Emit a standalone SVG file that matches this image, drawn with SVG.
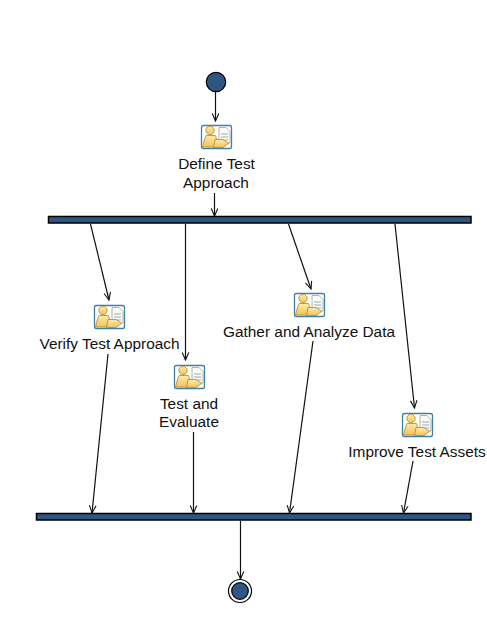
<svg xmlns="http://www.w3.org/2000/svg" xmlns:xlink="http://www.w3.org/1999/xlink" width="487" height="624" viewBox="0 0 487 624">
<style>
text{font-family:"Liberation Sans",Arial,sans-serif;font-size:15.4px;fill:#111;text-anchor:middle}
.bar{fill:#2f5582;stroke:#000;stroke-width:1.5}
.start{fill:#2f5582;stroke:#000;stroke-width:1.2}
.edge{fill:none;stroke:#111;stroke-width:1.2;marker-end:url(#arr)}
</style>
<defs>
<marker id="arr" markerUnits="userSpaceOnUse" viewBox="-9 -5 10 10" refX="0" refY="0" markerWidth="10" markerHeight="10" orient="auto">
<path d="M-7.500 -3.300L0 0L-7.500 3.300" fill="none" stroke="#111" stroke-width="1.100"/>
</marker>
<linearGradient id="gold" x1="0" y1="0" x2="0" y2="1"><stop offset="0" stop-color="#fdeca8"/><stop offset="1" stop-color="#f2c25e"/></linearGradient>
<g id="icon">
<rect x="0.500" y="0.500" width="30" height="23" rx="2" fill="#fff" stroke="#3f7fa8" stroke-width="1.300"/>
<path d="M18 2.500H25L29 6.500V18H18Z" fill="#fbfbf6" stroke="#a0a098" stroke-width=".8"/>
<path d="M20 9H27M20 12H27M21 15H27" stroke="#8298a6" stroke-width=".8"/>
<circle cx="9" cy="5.500" r="4.200" fill="url(#gold)" stroke="#b5862a" stroke-width=".8"/>
<path d="M5 10.500H14.500L15.500 14V22H1.500L3 16Z" fill="url(#gold)" stroke="#b5862a" stroke-width=".8"/>
<path d="M14 14.500H22L27.500 18.500L22 22.500H12.500Z" fill="url(#gold)" stroke="#b5862a" stroke-width=".8"/>
</g>
</defs>
<rect width="487" height="624" fill="#fff"/>
<g id="connectors">
<path class="edge" d="M215.500 92V121"/>
<path class="edge" d="M214.500 193V216"/>
<path class="edge" d="M90.500 224L109 300"/>
<path class="edge" d="M185.500 224V360"/>
<path class="edge" d="M288.500 224L311 289"/>
<path class="edge" d="M395 224L414.500 408"/>
<path class="edge" d="M108 354L92 513"/>
<path class="edge" d="M193.500 432V513"/>
<path class="edge" d="M313 341L289.500 513"/>
<path class="edge" d="M413 461L403.500 513"/>
<path class="edge" d="M240.500 521V579"/>
</g>
<g id="start"><circle class="start" cx="216" cy="82" r="9.700"/></g>
<g id="define-test-approach"><use xlink:href="#icon" href="#icon" x="201" y="125"/><text x="216.500" y="169">Define Test</text><text x="216" y="188">Approach</text></g>
<g id="fork"><rect class="bar" x="48.500" y="216.500" width="422.500" height="6.500"/></g>
<g id="verify-test-approach"><use xlink:href="#icon" href="#icon" x="94" y="305"/><text x="109.500" y="349">Verify Test Approach</text></g>
<g id="test-and-evaluate"><use xlink:href="#icon" href="#icon" x="174" y="365"/><text x="189" y="409">Test and</text><text x="189" y="427">Evaluate</text></g>
<g id="gather-and-analyze-data"><use xlink:href="#icon" href="#icon" x="294" y="293"/><text x="309" y="337">Gather and Analyze Data</text></g>
<g id="improve-test-assets"><use xlink:href="#icon" href="#icon" x="402" y="413"/><text x="417" y="457">Improve Test Assets</text></g>
<g id="join"><rect class="bar" x="36.500" y="513.500" width="434.500" height="6.500"/></g>
<g id="end"><circle cx="240" cy="591" r="11.500" fill="#fff" stroke="#000" stroke-width="1.200"/><circle class="start" cx="240" cy="591" r="8.300"/></g>
</svg>
